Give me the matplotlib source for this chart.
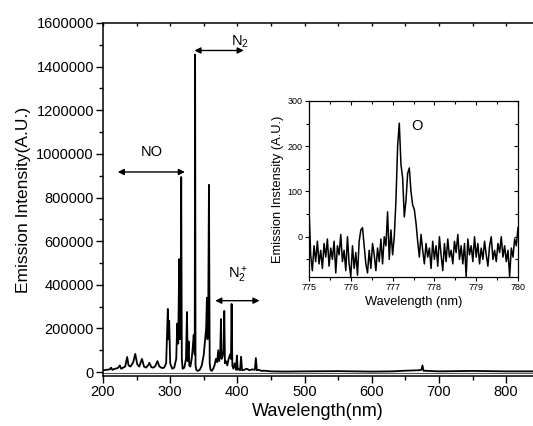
import numpy as np
import matplotlib
matplotlib.use("Agg")
import matplotlib.pyplot as plt
from matplotlib.ticker import MultipleLocator, FuncFormatter

plt.rcParams['font.family'] = ['Liberation Sans', 'DejaVu Sans']
plt.rcParams['mathtext.default'] = 'regular'

# ---- main spectrum ----
main_wl = [200, 205, 210, 212, 214, 218, 222, 225, 227, 230, 233, 236, 238, 241, 245, 248, 251,
           254, 258, 261, 264, 267, 269, 272, 275, 278, 281, 284, 288, 291, 294, 296.5, 297.5,
           298.5, 300, 303, 306, 309, 310.5, 312, 313.4, 314.5, 315.5, 316.4, 317.3, 318.5, 321,
           323.5, 325, 326, 327.5, 328.5, 330, 332, 333.5, 335, 336.5, 337.1, 337.7, 339, 341,
           344, 347, 350, 352, 353.5, 354.7, 355.5, 356.5, 357.7, 358.8, 360, 362, 364, 366, 368,
           370, 371.5, 373, 374.5, 375.6, 376.5, 378, 379.5, 380.5, 381.5, 383, 385, 387, 389,
           390.5, 391.4, 392.5, 394, 396, 398, 399.3, 400.5, 402, 404, 405.5, 407, 410, 414, 418,
           422, 426, 427.5, 429, 432, 436, 440, 450, 470, 500, 550, 600, 630, 650, 670, 674,
           675.5, 677, 700, 750, 800, 840]
main_int = [8000, 10000, 12000, 20000, 10000, 15000, 18000, 30000, 15000, 20000, 25000, 69000,
            30000, 25000, 45000, 83000, 35000, 25000, 60000, 25000, 20000, 30000, 42000, 22000,
            20000, 28000, 50000, 25000, 18000, 20000, 40000, 289000, 150000, 235000, 40000,
            15000, 20000, 60000, 222000, 130000, 518000, 150000, 200000, 894000, 60000, 15000,
            20000, 60000, 275000, 50000, 140000, 30000, 25000, 60000, 110000, 170000, 80000,
            1455000, 30000, 10000, 5000, 10000, 30000, 80000, 150000, 200000, 341000, 150000,
            200000, 858000, 40000, 10000, 5000, 15000, 30000, 60000, 45000, 100000, 50000,
            90000, 243000, 60000, 70000, 100000, 280000, 40000, 50000, 30000, 60000, 80000,
            60000, 312000, 30000, 15000, 40000, 10000, 75000, 10000, 15000, 8000, 70000, 8000,
            10000, 15000, 8000, 12000, 10000, 64000, 8000, 10000, 5000, 6000, 3000, 2000, 3000,
            4000, 2000, 3000, 6000, 8000, 10000, 30000, 6000, 3000, 5000, 3000, 3000]

# ---- inset: O 777 nm line ----
inset_int = [63, -40, -75, -20, -55, -10, -60, -30, -70, -15, -45, -5, -65, -25, -50, -10,
             -80, -20, -40, 5, -55, -30, -75, 0, -60, -88, -20, -70, -35, -85, -10, 15, 20,
             -20, -60, -80, -30, -70, -15, -40, -75, -25, -55, -5, -60, 0, -20, 55, -50, 15,
             -40, 0, 80, 200, 251, 160, 130, 44, 80, 140, 152, 100, 70, 60, 30, -10, -45, 5,
             -30, -60, -15, -45, -25, -70, -10, -50, -20, -65, 0, -40, -75, -15, -55, -5, -45,
             -30, -60, -10, -35, 5, -50, -20, -60, -15, -88, -5, -40, -20, -55, 0, -45, -15,
             -60, -25, -50, -10, -40, -65, -20, 0, -50, -30, -55, -15, -35, 0, -45, -20, -55,
             -30, -88, -25, -45, -5, -20, 20]
inset_wl = np.linspace(775, 780, len(inset_int))

fig = plt.figure(figsize=(5.33, 4.26), dpi=100)

ax = fig.add_axes([103/533, 50/426, 430/533, 353/426])
ax.plot(main_wl, main_int, color='black', lw=1.3)
ax.axhline(-6000, color='0.35', lw=0.8)
ax.set_xlim(200, 840)
ax.set_ylim(-18300, 1600000)
ax.xaxis.set_major_locator(MultipleLocator(100))
ax.xaxis.set_minor_locator(MultipleLocator(50))
ax.yaxis.set_major_locator(MultipleLocator(200000))
ax.yaxis.set_minor_locator(MultipleLocator(100000))
ax.yaxis.set_major_formatter(FuncFormatter(lambda v, p: f'{int(round(v))}'))
ax.spines['right'].set_visible(False)
ax.tick_params(axis='both', which='major', direction='out', length=5, width=1,
               labelsize=10.5, pad=1.5)
ax.tick_params(axis='both', which='minor', direction='out', length=3, width=1)
ax.tick_params(axis='x', which='both', top=True, labeltop=False)
for sp in ax.spines.values():
    sp.set_linewidth(1.1)
ax.set_xlabel('Wavelength(nm)', fontsize=13, labelpad=3)
ax.set_ylabel('Emission Intensity(A.U.)', fontsize=12.5, labelpad=4)
# top ticks point inward
for t in ax.xaxis.get_major_ticks() + ax.xaxis.get_minor_ticks():
    t.tick2line.set_marker(matplotlib.lines.TICKDOWN)
    t.tick2line.set_markersize(2.5)

arrow = dict(arrowstyle='<|-|>', color='black', lw=1.0, mutation_scale=9,
             shrinkA=0, shrinkB=0)
ax.annotate('', xy=(222, 917000), xytext=(322, 917000), arrowprops=arrow)
ax.text(273, 1009000, 'NO', fontsize=10.5, ha='center', va='center')
ax.annotate('', xy=(336, 1474000), xytext=(409.5, 1474000), arrowprops=arrow)
ax.text(404.5, 1514000, r'N$_2$', fontsize=10.5, ha='center', va='center')
ax.annotate('', xy=(367, 327000), xytext=(433, 327000), arrowprops=arrow)
ax.text(401.5, 445000, r'N$_2^+$', fontsize=10.5, ha='center', va='center')

ins = fig.add_axes([309/533, 149/426, 209/533, 176/426])
ins.plot(inset_wl, inset_int, color='black', lw=1.1)
ins.set_xlim(775, 780)
ins.set_ylim(-89, 300)
ins.xaxis.set_major_locator(MultipleLocator(1))
ins.xaxis.set_minor_locator(MultipleLocator(0.5))
ins.yaxis.set_major_locator(MultipleLocator(100))
ins.yaxis.set_minor_locator(MultipleLocator(50))
ins.tick_params(axis='both', which='major', direction='out', length=3, width=0.8,
                labelsize=6.5, pad=1.5)
ins.tick_params(axis='both', which='minor', direction='out', length=2, width=0.8)
ins.tick_params(axis='both', which='both', top=True, right=True)
for t in ins.xaxis.get_major_ticks() + ins.xaxis.get_minor_ticks():
    t.tick2line.set_marker(matplotlib.lines.TICKDOWN)
for t in ins.yaxis.get_major_ticks() + ins.yaxis.get_minor_ticks():
    t.tick2line.set_marker(matplotlib.lines.TICKLEFT)
for sp in ins.spines.values():
    sp.set_linewidth(0.9)
ins.set_xlabel('Wavelength (nm)', fontsize=9.3, labelpad=3)
ins.set_ylabel('Emission Instensity (A.U.)', fontsize=9.3, labelpad=3)
ins.text(777.45, 244, 'O', fontsize=10.5, ha='left', va='center')

fig.savefig('out.png', dpi=100)
